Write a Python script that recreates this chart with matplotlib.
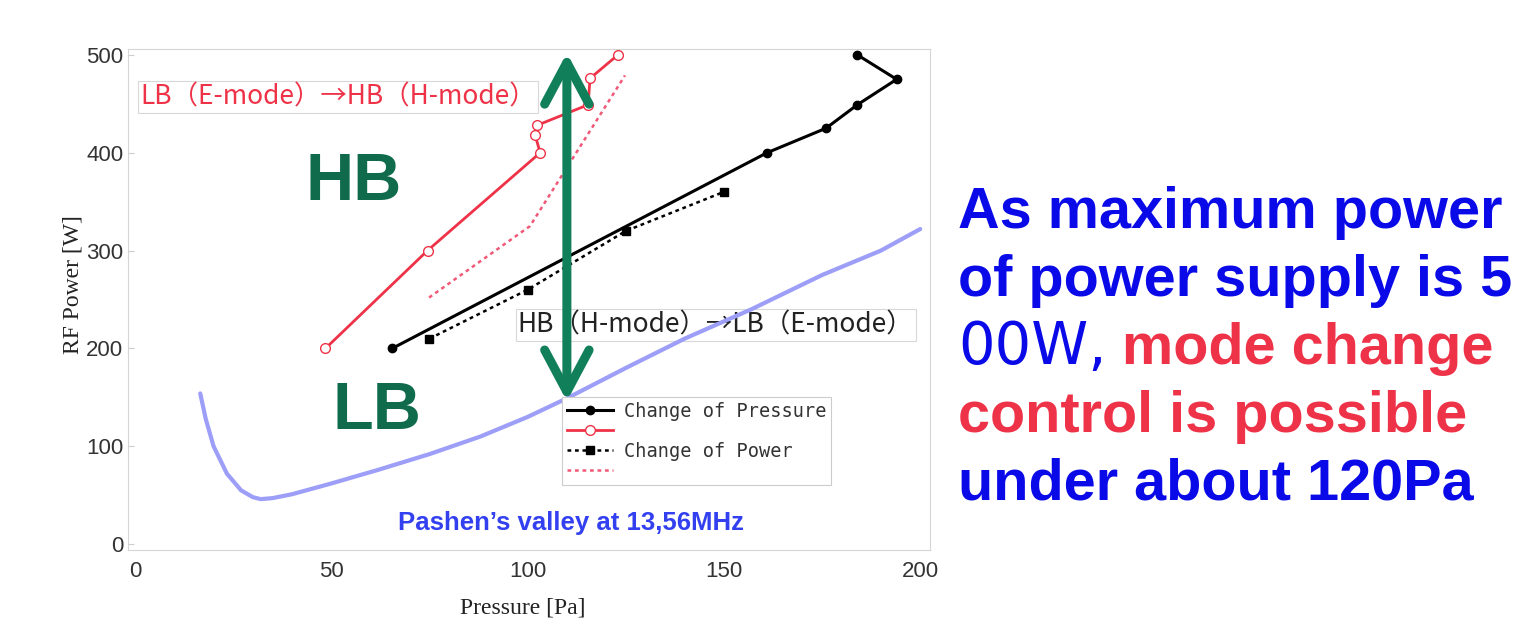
"""
E-mode / H-mode transition map with Paschen valley (RF power vs pressure).
"""

import matplotlib.pyplot as plt

# change of pressure (black solid, filled circles)
press_x = [65.5, 161, 176, 184, 194, 184]
press_y = [200, 400, 425, 449, 475, 500]

# red solid, open circles
red_x = [48.5, 74.5, 103.2, 101.9, 102.4, 115.4, 115.9, 123]
red_y = [200, 300, 400, 418, 428, 449, 476, 500]

# change of power (black dotted, squares)
power_x = [75, 100, 125, 150]
power_y = [210, 260, 320, 360]

# red dotted
red_dot_x = [74.9, 100.6, 124.8]
red_dot_y = [252, 325, 479]

# Paschen valley curve
pashen_x = [16.6, 18, 20, 23.4, 27, 30, 32, 35, 40, 50, 62, 75, 88, 100, 110, 125, 140, 157, 175, 190, 200]
pashen_y = [154, 128, 100, 72, 55, 48, 46, 47, 51, 62, 76, 92, 110, 130, 149, 180, 210, 240, 275, 300, 322]

x_ticks = [0, 50, 100, 150, 200]
y_ticks = [0, 100, 200, 300, 400, 500]

GREEN = "#11805a"
GREEN_TXT = "#0f6b4b"
RED = "#ee3348"
BLUE = "#0a0ae8"

W, H = 1531, 627
fig = plt.figure(figsize=(W / 100, H / 100), dpi=100)
ax = fig.add_axes([128 / W, 1 - 550 / H, (930 - 128) / W, (550 - 49) / H])

ax.set_xlim(-1.8, 202.5)
ax.set_ylim(-6, 506)

ax.plot(pashen_x, pashen_y, color="#9c9ef7", lw=3, zorder=4, solid_capstyle="round")

l1, = ax.plot(press_x, press_y, color="black", lw=2.2, marker="o", ms=6, zorder=5)
l2, = ax.plot(red_x, red_y, color=RED, lw=2, marker="o", ms=7, mfc="white", mec=RED, zorder=5)
l3, = ax.plot(power_x, power_y, color="black", lw=1.8, ls=(0, (1.5, 1.5)), marker="s", ms=6, zorder=5)
l4, = ax.plot(red_dot_x, red_dot_y, color="#f05a78", lw=1.8, ls=(0, (1.5, 1.5)), zorder=5)

# mode labels
ax.text(1.3, 457, "LB（E-mode）→HB（H-mode）", color=RED, fontsize=19,
        family=["Noto Sans CJK JP", "DejaVu Sans"], va="center", ha="left", zorder=3,
        bbox=dict(boxstyle="square,pad=0.08", fc="white", ec="#d8d8d8", lw=0.8))
ax.text(97.5, 224, "HB（H-mode）→LB（E-mode）", color="#222222", fontsize=19,
        family=["Noto Sans CJK JP", "DejaVu Sans"], va="center", ha="left", zorder=3,
        bbox=dict(boxstyle="square,pad=0.08", fc="white", ec="#d8d8d8", lw=0.8))

ax.text(55.8, 369, "HB", color=GREEN_TXT, fontsize=48, fontweight="bold",
        family="Liberation Sans", ha="center", va="center", zorder=6)
ax.text(61.7, 135, "LB", color=GREEN_TXT, fontsize=48, fontweight="bold",
        family="Liberation Sans", ha="center", va="center", zorder=6)

ax.annotate("", xy=(110, 502), xytext=(110, 146),
            arrowprops=dict(arrowstyle="<->,head_length=1.5,head_width=0.8",
                            lw=6.5, color=GREEN, mutation_scale=20,
                            shrinkA=0, shrinkB=0),
            zorder=7)

ax.text(111, 21.5, "Pashen’s valley at 13,56MHz", color="#3340f0", fontsize=18.5,
        fontweight="bold", family="Liberation Sans", ha="center", va="center")

leg = ax.legend([l1, l2, l3, l4], ["Change of Pressure", " ", "Change of Power", " "],
                loc="upper left", bbox_to_anchor=(0.541, 0.305), borderaxespad=0,
                prop={"family": "DejaVu Sans Mono", "size": 13.4},
                handlelength=2.5, labelspacing=0.05, borderpad=0.25,
                handletextpad=0.6, fancybox=False, framealpha=1, edgecolor="#cccccc")
leg.get_frame().set_linewidth(0.8)
for t in leg.get_texts():
    t.set_color("#333333")
leg.set_zorder(6)

ax.set_xticks(x_ticks)
ax.set_yticks(y_ticks)
ax.tick_params(axis="both", labelsize=16, labelcolor="#333333", colors="#cccccc",
               direction="in", length=4)
ax.tick_params(axis="x", length=0, pad=8)
for lab in ax.get_xticklabels() + ax.get_yticklabels():
    lab.set_family("Liberation Sans")
    lab.set_color("#333333")
for s in ax.spines.values():
    s.set_color("#d5d5d5")
    s.set_linewidth(0.8)

ax.set_xlabel("Pressure [Pa]", fontsize=17, family="Liberation Serif", color="#222222")
ax.xaxis.set_label_coords(0.4925, -0.095)
ax.set_ylabel("RF Power [W]", fontsize=17, family="Liberation Serif", color="#222222")
ax.yaxis.set_label_coords(-0.055, 0.53)

# explanatory text on the right
fs = 41.5
kw = dict(fontsize=fs, fontweight="bold", family="Liberation Sans", va="baseline", ha="left")
x0 = 958 / W
fig.text(x0, 1 - 228 / H, "As maximum power", color=BLUE, **kw)
fig.text(x0, 1 - 296 / H, "of power supply is 5", color=BLUE, **kw)
t3 = fig.text(x0, 1 - 364 / H, "00W,", color=BLUE, fontsize=fs, family="DejaVu Sans",
              va="baseline", ha="left")
fig.text(x0, 1 - 432 / H, "control is possible", color=RED, **kw)
fig.text(x0, 1 - 500 / H, "under about 120Pa", color=BLUE, **kw)
ax.annotate(" mode change", xy=(1, 0), xycoords=t3, va="bottom", ha="left",
            color=RED, fontsize=fs, fontweight="bold", family="Liberation Sans",
            annotation_clip=False)

fig.savefig("out.png", dpi=100)
